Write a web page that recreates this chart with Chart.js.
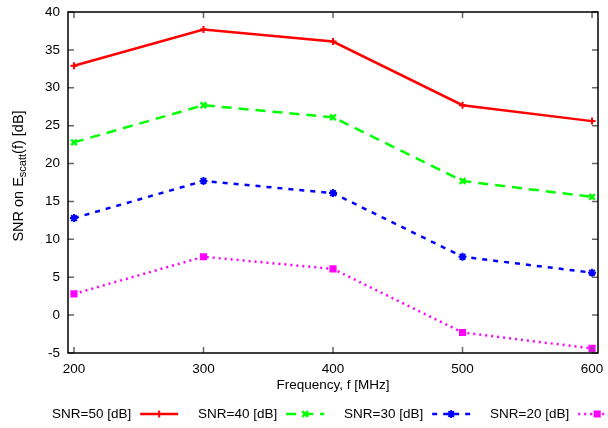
<!DOCTYPE html>
<html><head><meta charset="utf-8">
<script src="https://cdn.jsdelivr.net/npm/chart.js@4/dist/chart.umd.min.js"></script>
<style>html,body{margin:0;padding:0;background:#fff}#wrap{width:608px;height:428px}</style>
</head><body><div id="wrap"><canvas id="c" width="608" height="428"></canvas></div>
<script>
const frequencies = [200, 300, 400, 500, 600];
const snr50 = [32.9, 37.7, 36.1, 27.7, 25.6];
const snr40 = [22.8, 27.7, 26.1, 17.7, 15.6];
const snr30 = [12.8, 17.7, 16.1, 7.7, 5.6];
const snr20 = [2.8, 7.7, 6.1, -2.3, -4.4];
const seriesLabels = ['SNR=50 [dB]', 'SNR=40 [dB]', 'SNR=30 [dB]', 'SNR=20 [dB]'];
const xTicks = [200, 300, 400, 500, 600];
const yTicks = [-5, 0, 5, 10, 15, 20, 25, 30, 35, 40];
const xTitle = 'Frequency, f [MHz]';
const yTitleParts = ['SNR on E', 'scatt', '(f) [dB]'];

const FONT = '"Liberation Sans", Arial, sans-serif';
const colors = ['#ff0000', '#00ff00', '#0000ff', '#ff00ff'];
const dashes = [[], [10, 7], [5, 6], [2, 4]];
const pStyles = ['cross', 'crossRot', 'star', 'rect'];
const pRadius = [3.5, 4, 4, 4];
const pBorder = [2, 2.5, 2, 1.5];

function pts(arr) { return frequencies.map((f, i) => ({x: f, y: arr[i]})); }
const allSeries = [snr50, snr40, snr30, snr20];

const datasets = allSeries.map((s, i) => ({
  label: seriesLabels[i],
  data: pts(s),
  borderColor: colors[i],
  backgroundColor: colors[i],
  borderWidth: 2.5,
  borderDash: dashes[i],
  pointStyle: pStyles[i],
  pointRadius: pRadius[i],
  pointBorderWidth: pBorder[i],
  pointBorderColor: colors[i],
  pointBackgroundColor: colors[i],
  tension: 0,
  fill: false
}));

const decor = {
  id: 'decor',
  afterDraw(chart) {
    const ctx = chart.ctx, a = chart.chartArea;
    const xs = chart.scales.x, ys = chart.scales.y;
    ctx.save();
    ctx.strokeStyle = '#666';
    ctx.lineWidth = 1.5;
    ctx.setLineDash([]);
    ctx.beginPath();
    xTicks.forEach(v => {
      const px = xs.getPixelForValue(v);
      ctx.moveTo(px, a.bottom); ctx.lineTo(px, a.bottom - 6);
      ctx.moveTo(px, a.top); ctx.lineTo(px, a.top + 6);
    });
    yTicks.forEach(v => {
      const py = ys.getPixelForValue(v);
      ctx.moveTo(a.left, py); ctx.lineTo(a.left + 6, py);
      ctx.moveTo(a.right, py); ctx.lineTo(a.right - 6, py);
    });
    ctx.stroke();
    ctx.strokeStyle = '#000';
    ctx.lineWidth = 1.5;
    ctx.strokeRect(a.left, a.top, a.right - a.left, a.bottom - a.top);
    ctx.fillStyle = '#000';
    ctx.font = '13.5px ' + FONT;
    ctx.textAlign = 'center';
    ctx.textBaseline = 'middle';
    ctx.fillText(xTitle, (a.left + a.right) / 2, 385);
    ctx.save();
    ctx.translate(19, 176);
    ctx.rotate(-Math.PI / 2);
    ctx.textAlign = 'left';
    const f1 = '14.5px ' + FONT, f2 = '11px ' + FONT;
    ctx.font = f1; const w1 = ctx.measureText(yTitleParts[0]).width;
    ctx.font = f2; const w2 = ctx.measureText(yTitleParts[1]).width;
    ctx.font = f1; const w3 = ctx.measureText(yTitleParts[2]).width;
    let x0 = -(w1 + w2 + w3) / 2;
    ctx.font = f1; ctx.fillText(yTitleParts[0], x0, 0);
    ctx.font = f2; ctx.fillText(yTitleParts[1], x0 + w1, 4);
    ctx.font = f1; ctx.fillText(yTitleParts[2], x0 + w1 + w2, 0);
    ctx.restore();
    const ly = 414;
    ctx.font = '13.5px ' + FONT;
    ctx.textAlign = 'left';
    ctx.textBaseline = 'middle';
    chart.data.datasets.forEach((ds, i) => {
      const tx = 52 + i * 146;
      ctx.fillStyle = '#000';
      ctx.fillText(ds.label, tx, ly);
      const tw = ctx.measureText(ds.label).width;
      const lx0 = tx + tw + 9, lx1 = lx0 + 38;
      ctx.strokeStyle = ds.borderColor;
      ctx.fillStyle = ds.borderColor;
      ctx.lineWidth = 2.5;
      ctx.setLineDash(ds.borderDash);
      ctx.beginPath(); ctx.moveTo(lx0, ly); ctx.lineTo(lx1, ly); ctx.stroke();
      ctx.setLineDash([]);
      ctx.lineWidth = ds.pointBorderWidth;
      Chart.helpers.drawPoint(ctx, {pointStyle: ds.pointStyle, radius: ds.pointRadius, borderWidth: ds.pointBorderWidth, rotation: 0}, (lx0 + lx1) / 2, ly);
    });
    ctx.restore();
  }
};

new Chart(document.getElementById('c'), {
  type: 'line',
  data: { datasets },
  options: {
    responsive: false,
    animation: false,
    devicePixelRatio: 1,
    layout: { padding: { top: 12, right: 10, left: 0, bottom: 0 } },
    plugins: { legend: { display: false }, tooltip: { enabled: false } },
    scales: {
      x: {
        type: 'linear', min: 195.4, max: 604.6,
        grid: { display: false }, border: { display: false },
        afterBuildTicks: s => { s.ticks = xTicks.map(v => ({value: v})); },
        afterFit: s => { s.height = 75; },
        ticks: { color: '#000', font: { size: 13.5, family: FONT }, padding: 0, maxRotation: 0 }
      },
      y: {
        type: 'linear', min: -5, max: 40,
        grid: { display: false }, border: { display: false },
        afterBuildTicks: s => { s.ticks = yTicks.map(v => ({value: v})); },
        afterFit: s => { s.width = 68; },
        ticks: { color: '#000', font: { size: 13.5, family: FONT }, padding: 0 }
      }
    }
  },
  plugins: [decor]
});
</script>
</body></html>
